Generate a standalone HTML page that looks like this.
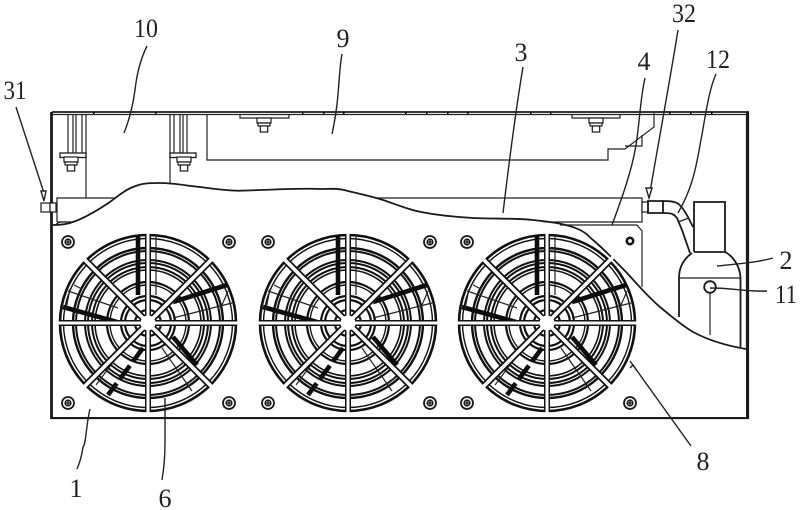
<!DOCTYPE html>
<html>
<head>
<meta charset="utf-8">
<style>
html,body{margin:0;padding:0;background:#fff;width:800px;height:510px;overflow:hidden}
svg{display:block}
text{font-family:"Liberation Serif",serif;font-size:26px;fill:#222;text-anchor:middle}
.l{fill:none;stroke:#222;stroke-width:1.2}
.t{fill:none;stroke:#1a1a1a;stroke-width:1.8}
</style>
</head>
<body>
<svg width="800" height="510" viewBox="0 0 800 510" xmlns="http://www.w3.org/2000/svg">
<defs>
<g id="fan">
  <g fill="none" stroke="#111">
    <circle r="88" stroke-width="2.6"/>
    <circle r="84.5" stroke-width="1.4"/>
    <circle r="75" stroke-width="2.4"/>
    <circle r="72" stroke-width="2"/>
    <circle r="63" stroke-width="2"/>
    <circle r="60" stroke-width="2"/>
    <circle r="56" stroke-width="2"/>
    <circle r="53" stroke-width="1.6"/>
    <circle r="41" stroke-width="2.2"/>
    <circle r="38" stroke-width="1.4"/>
    <circle r="27" stroke-width="2.2"/>
    <circle r="23" stroke-width="2.2"/>
    <circle r="13" stroke-width="2.2"/>
  </g>
  <g stroke="#0c0c0c" fill="none" stroke-width="4.6">
    <line x1="-10" y1="-88" x2="-10" y2="-28"/>
    <line x1="25" y1="-21" x2="79" y2="-38"/>
    <line x1="-85" y1="-16" x2="-31" y2="-1"/>
    <line x1="25" y1="14" x2="49" y2="42"/>
    <line x1="-5" y1="25" x2="-40" y2="72" stroke-dasharray="16 6"/>
  </g>
  <g stroke="#222" fill="none" stroke-width="1.2">
    <line x1="2" y1="-88" x2="2" y2="-28"/>
    <line x1="8" y1="-88" x2="8" y2="-28"/>
    <line x1="25" y1="-5" x2="84" y2="-20"/>
    <line x1="-80" y1="-32" x2="-30" y2="-15"/>
    <line x1="14" y1="25" x2="44" y2="68"/>
    <line x1="-22" y1="22" x2="-52" y2="62"/>
    <line x1="-82" y1="-14" x2="-78" y2="-34"/>
    <line x1="74" y1="-18" x2="80" y2="-32"/>
    <line x1="38" y1="62" x2="48" y2="54"/>
    <line x1="-74" y1="-38" x2="-66" y2="-34"/>
  </g>
  <g stroke="#111" stroke-linecap="butt">
    <line x1="-89" y1="0" x2="89" y2="0" stroke-width="6"/>
    <line x1="0" y1="-89" x2="0" y2="89" stroke-width="6"/>
    <line x1="-62" y1="-62" x2="62" y2="62" stroke-width="7"/>
    <line x1="-62" y1="62" x2="62" y2="-62" stroke-width="7"/>
  </g>
  <g stroke="#fff" stroke-linecap="butt">
    <line x1="-92" y1="0" x2="92" y2="0" stroke-width="3"/>
    <line x1="0" y1="-92" x2="0" y2="92" stroke-width="3"/>
    <line x1="-66" y1="-66" x2="66" y2="66" stroke-width="3.6"/>
    <line x1="-66" y1="66" x2="66" y2="-66" stroke-width="3.6"/>
  </g>
  <circle r="7.5" fill="#fff"/>
</g>
<g id="sc">
  <circle r="6" fill="#fff" stroke="#1a1a1a" stroke-width="1.8"/>
  <circle r="2.8" fill="none" stroke="#1a1a1a" stroke-width="1.6"/>
  <path d="M-3 0H3M0 -3V3" stroke="#1a1a1a" stroke-width="1.3"/>
</g>
<g id="nut" fill="#fff" stroke="#1a1a1a" stroke-width="1.2">
  <rect x="-7" y="0" width="14" height="5"/>
  <rect x="-6" y="5" width="12" height="3"/>
  <rect x="-3.7" y="8" width="7.4" height="6"/>
</g>
</defs>
<rect width="800" height="510" fill="#fff"/>

<!-- Housing -->
<path class="t" d="M52 112H749"/>
<path class="l" d="M52 114.5H749"/>
<path d="M51.5 112V419" stroke="#1a1a1a" stroke-width="2.8" fill="none"/>
<path d="M747.5 112V418" stroke="#1a1a1a" stroke-width="3.2" fill="none"/>
<path d="M51 418H749" stroke="#1a1a1a" stroke-width="2.2" fill="none"/>
<path d="M93 113H94.5M155 113H156.5M302 113H303.5M323 113H324.5M343 113H344.5M405 113H406.5M426 113H427.5M447 113H448.5M467 113H468.5M530 113H531.5M550 113H551.5M669 113H670.5M690 113H691.5M711 113H712.5" stroke="#000" stroke-width="2"/>

<!-- Upper left brackets -->
<path class="l" d="M68 114V153M73 114V153M76 114V153M82 114V153M86 114V198M170 114V198M174 114V153M180 114V153M183 114V153M187 114V153"/>
<rect x="60" y="153" width="26" height="4.5" fill="#fff" stroke="#1a1a1a" stroke-width="1.3"/>
<rect x="170" y="153" width="26" height="4.5" fill="#fff" stroke="#1a1a1a" stroke-width="1.3"/>
<use href="#nut" transform="translate(71 157)"/>
<use href="#nut" transform="translate(184 157)"/>

<!-- Box 9 -->
<path class="l" d="M207 114V160H608V149H625L654 127V113"/>
<path class="l" d="M625 146H642V135"/>
<path class="l" d="M240 114V118H289V114M572 114V118H620V114"/>
<use href="#nut" transform="translate(264 118)"/>
<use href="#nut" transform="translate(596 118)"/>

<!-- Tube 3 -->
<path class="l" d="M57 222V198H642V222H57"/>
<path class="l" d="M560 225H637L642 231V287"/>
<rect x="642" y="202" width="6" height="10" fill="#fff" stroke="#1a1a1a" stroke-width="1.2"/>
<path class="t" d="M648 201H663V213H648Z"/>
<path class="t" d="M663 201C668 201 673 201 677 203C682 206 685 212 688 217L693 227"/>
<path class="t" d="M663 213C667 213 670 213 672 214C675 215 676 217 677 218L682 230L690 253"/>
<path class="l" d="M678 222L689 218"/>
<!-- Connector 31 -->
<rect x="41" y="203" width="9" height="9" fill="#fff" stroke="#1a1a1a" stroke-width="1.2"/>
<rect x="50" y="203" width="6" height="9" fill="#fff" stroke="#1a1a1a" stroke-width="1.2"/>

<!-- Receiver 2 -->
<path class="t" d="M694 252V202H725V252H694"/>
<path class="t" d="M679 317V278C679 266 685 258 692 253M725 252C733 256 740 266 740.5 278V347"/>
<path class="l" d="M679 278H741"/>
<path class="l" d="M710 293V335"/>
<circle cx="710" cy="287" r="5.8" fill="#fff" stroke="#1a1a1a" stroke-width="1.8"/>
<circle cx="630" cy="241" r="3.2" fill="none" stroke="#111" stroke-width="2.6"/>

<!-- Break curve -->
<path fill="#fff" stroke="none" d="M53 225L73 222L110 202L133 187L160 183L200 187L240 190.7L320 189L347 190.7L383 200L427 213L473 218L533 220L580 230L593 240L627 273L660 307L693 332L746 349V417H53Z"/>
<path class="t" d="M53 225C62 225 68 224 73 222C85 218 98 210 110 202C118 196 125 190 133 187C142 183 150 183 160 183C175 183 188 186 200 187C215 189 228 191 240 190.7C270 190 295 188 320 189C330 189 338 188 347 190.7C360 194 371 196 383 200C398 205 412 211 427 213C442 216 458 217 473 218C495 219 515 218 533 220C552 222 568 224 580 230C588 234 587 235 593 240C606 251 616 262 627 273C638 285 648 297 660 307C671 316 681 325 693 332C710 341 728 346 746 349"/>
<path class="l" d="M56 224L60 222H72"/>

<!-- Fans -->
<use href="#fan" transform="translate(148 323)"/>
<use href="#fan" transform="translate(348 323)"/>
<use href="#fan" transform="translate(547 323)"/>

<!-- Screws -->
<use href="#sc" x="68" y="242"/><use href="#sc" x="229" y="242"/>
<use href="#sc" x="68" y="403"/><use href="#sc" x="229" y="403"/>
<use href="#sc" x="268" y="242"/><use href="#sc" x="430" y="242"/>
<use href="#sc" x="268" y="403"/><use href="#sc" x="430" y="403"/>
<use href="#sc" x="467" y="242"/>
<use href="#sc" x="467" y="403"/><use href="#sc" x="630" y="403"/>

<!-- Leaders -->
<g fill="none" stroke="#222" stroke-width="1.4">
  <path d="M16 107L44 193"/>
  <path d="M41 191L44 201L46 191Z" fill="#fff"/>
  <path d="M147 46C141 58 137 72 135 90C133 105 130 118 124 133"/>
  <path d="M342 54C338 75 340 98 332 134"/>
  <path d="M523 67C514 120 507 180 503 213"/>
  <path d="M645 78C640 100 640 120 636 145C632 170 622 198 612 225"/>
  <path d="M678 30C670 80 658 145 649 198"/>
  <path d="M646 188L649 198L652 188Z" fill="#fff"/>
  <path d="M716 74C708 92 705 120 700 145C695 175 690 192 678 213"/>
  <path d="M717 266C735 264 755 263 773 258"/>
  <path d="M710 288C735 288 745 292 767 291"/>
  <path d="M630 361L691 446"/>
  <path d="M630 368L633 365L637 371"/>
  <path d="M90 409C86 425 86 445 83 447C82 455 80 462 77 469"/>
  <path d="M165 398V443C165 458 164 468 162 480"/>
</g>

<!-- Labels -->
<text x="146" y="37" textLength="24" lengthAdjust="spacingAndGlyphs">10</text>
<text x="343" y="47">9</text>
<text x="521" y="61">3</text>
<text x="644" y="70">4</text>
<text x="684" y="22" textLength="24" lengthAdjust="spacingAndGlyphs">32</text>
<text x="718" y="68" textLength="24" lengthAdjust="spacingAndGlyphs">12</text>
<text x="786" y="269">2</text>
<text x="786" y="303" textLength="22" lengthAdjust="spacingAndGlyphs">11</text>
<text x="703" y="470">8</text>
<text x="165" y="507">6</text>
<text x="76" y="497">1</text>
<text x="15" y="99" textLength="23" lengthAdjust="spacingAndGlyphs">31</text>
</svg>
</body>
</html>
